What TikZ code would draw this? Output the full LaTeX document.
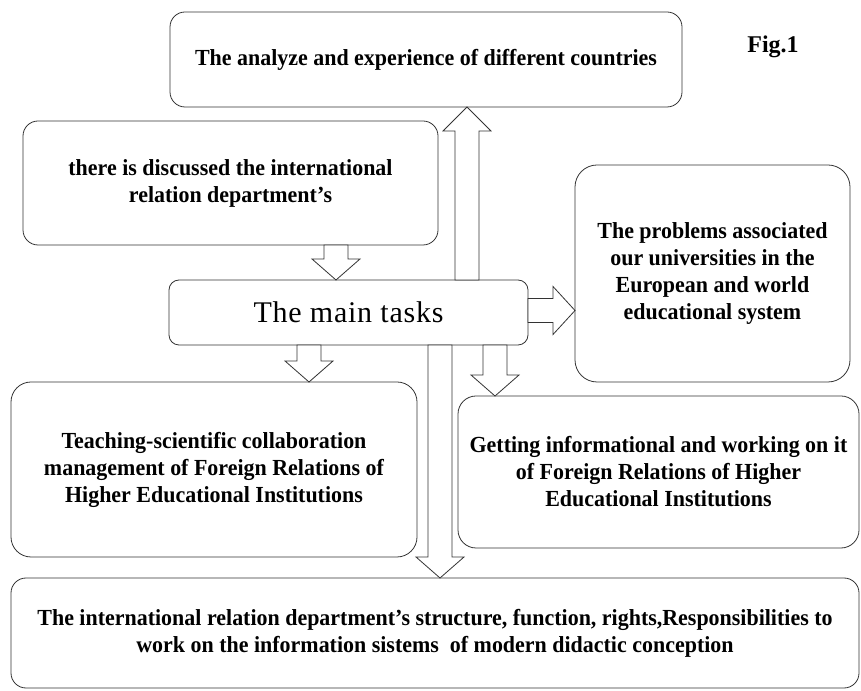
\documentclass[tikz,border=0pt]{standalone}
\usepackage{fontspec}
\setmainfont{Liberation Serif}
\newfontfamily\boxfont[FakeStretch=0.955]{Liberation Serif}
\newfontfamily\tasksfont[LetterSpace=2.5]{Liberation Serif}
\usetikzlibrary{calc}

% block arrows, shaft half width 12, head half width 24, head length 21
\newcommand\fatdown[3]{%
	\draw[fat] let \p1=(#1.south), \p2=(#2.north) in
		(#3pt-12pt,\y1) -- (#3pt-12pt,\y2+21pt) -- (#3pt-24pt,\y2+21pt) -- (#3pt,\y2)
		-- (#3pt+24pt,\y2+21pt) -- (#3pt+12pt,\y2+21pt) -- (#3pt+12pt,\y1) -- cycle;
}
\newcommand\fatup[3]{%
	\draw[fat] let \p1=(#1.north), \p2=(#2.south) in
		(#3pt-12pt,\y1) -- (#3pt-12pt,\y2-24pt) -- (#3pt-24pt,\y2-24pt) -- (#3pt,\y2)
		-- (#3pt+24pt,\y2-24pt) -- (#3pt+12pt,\y2-24pt) -- (#3pt+12pt,\y1) -- cycle;
}
\newcommand\fatright[3]{%
	\draw[fat] let \p1=(#1.east), \p2=(#2.west) in
		(\x1,#3pt+12pt) -- (\x2-22pt,#3pt+12pt) -- (\x2-22pt,#3pt+24pt) -- (\x2,#3pt)
		-- (\x2-22pt,#3pt-24pt) -- (\x2-22pt,#3pt-12pt) -- (\x1,#3pt-12pt) -- cycle;
}

\begin{document}
\begin{tikzpicture}[x=1pt,y=1pt,
		box/.style={draw=black!80, line width=0.8pt, rounded corners=15pt, inner sep=0pt, outer sep=0pt,
			align=center, font=\boxfont\bfseries\fontsize{23}{27}\selectfont},
		fat/.style={draw=black!80, line width=0.8pt, fill=white}]
	\useasboundingbox (0,0) rectangle (861,690);
	\node[box, minimum width=512, minimum height=95] (countries) at (426,630.5)
		{The analyze and experience of different countries};
	\node[font=\bfseries\fontsize{24}{28}\selectfont] (fig) at (773,643) {Fig.1};
	\node[box, minimum width=415, minimum height=124] (discussed) at (230.5,507)
		{there is discussed the international\\relation department’s};
	\node[box, rounded corners=10pt, minimum width=359, minimum height=65,
		font=\tasksfont\fontsize{30}{33}\selectfont] (tasks) at (348.5,377.5) {The main tasks};
	\node[box, rounded corners=22pt, minimum width=275, minimum height=217] (problems) at (712.5,416.5)
		{The problems associated\\our universities in the\\European and world\\educational system};
	\node[box, rounded corners=20pt, minimum width=406, minimum height=175] (teaching) at (214,220.5)
		{Teaching-scientific collaboration\\management of Foreign Relations of\\Higher Educational Institutions};
	\node[box, rounded corners=18pt, minimum width=401, minimum height=152] (getting) at (658.5,218)
		{Getting informational and working on it\\of Foreign Relations of Higher\\Educational Institutions};
	\node[box, minimum width=848, minimum height=110] (structure) at (435,57)
		{The international relation department’s structure, function, rights,Responsibilities to\\work on the information sistems\ \ of modern didactic conception};

	\foreach \from/\to/\xpos in {discussed/tasks/336, tasks/teaching/309, tasks/getting/495, tasks/structure/440}
	{
		\fatdown{\from}{\to}{\xpos}
	}
	\fatup{tasks}{countries}{467}
	\fatright{tasks}{problems}{379.5}
\end{tikzpicture}
\end{document}
